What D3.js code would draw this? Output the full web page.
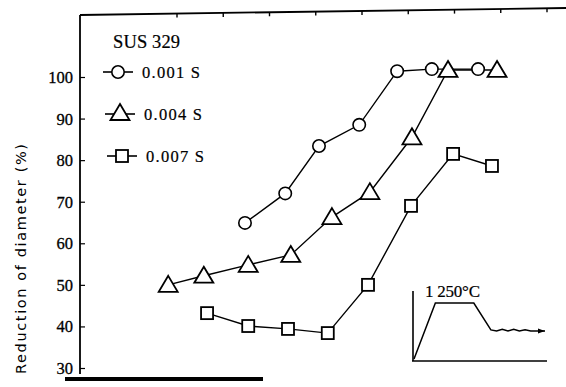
<!DOCTYPE html>
<html>
<head>
<meta charset="utf-8">
<script src="https://cdn.jsdelivr.net/npm/d3@7"></script>
<style>
  html, body { margin: 0; padding: 0; background: #fff; }
  svg { display: block; }
  text { fill: #000; }
  .serif { font-family: 'Liberation Serif', 'DejaVu Serif', serif; }
  .sans { font-family: 'DejaVu Sans', 'Liberation Sans', sans-serif; }
</style>
</head>
<body>
<script>
// series data, x in top-tick units (ticks at 0..8), y in percent
var circleX = [1.47, 2.34, 3.07, 3.94, 4.76, 5.51, 6.51];
var circleY = [64.9, 72.0, 83.4, 88.5, 101.4, 101.9, 101.9];

var triangleX = [-0.19, 0.58, 1.54, 2.46, 3.35, 4.17, 5.08, 5.86, 6.92];
var triangleY = [50.0, 52.2, 54.8, 57.2, 66.3, 72.3, 85.5, 101.7, 101.7];

var squareX = [0.65, 1.54, 2.40, 3.26, 4.13, 5.06, 5.97, 6.81];
var squareY = [43.2, 40.1, 39.4, 38.4, 50.0, 69.0, 81.5, 78.6];

var yTicks = [30, 40, 50, 60, 70, 80, 90, 100];
var topTicks = [0, 1, 2, 3, 4, 5, 6, 7, 8];

var legendLabels = ['0.001 S', '0.004 S', '0.007 S'];
var title = 'SUS 329';
var yTitle = 'Reduction of diameter (%)';

// inset heating profile: time vs temperature (arbitrary units)
var profileT = [0, 1.5, 4.2, 5.4, 5.8, 6.2, 6.6, 7.0, 7.4, 7.8, 8.2, 9.2];
var profileV = [0, 10, 10, 5.2, 5.0, 5.3, 5.0, 5.3, 5.0, 5.2, 5.0, 5.0];
var insetLabel = '1 250°C';

var W = 566, H = 387;
var svg = d3.select('body').append('svg').attr('width', W).attr('height', H);

var x = d3.scaleLinear().domain([0, 8]).range([177, 547]);
var y = d3.scaleLinear().domain([30, 100]).range([368, 77]);

// frame: left axis and slightly tilted top border
svg.append('line').attr('x1', 80).attr('y1', 15).attr('x2', 80).attr('y2', 374)
	.attr('stroke', '#000').attr('stroke-width', 1.8);
svg.append('line').attr('x1', 80).attr('y1', 15).attr('x2', 566).attr('y2', 8)
	.attr('stroke', '#000').attr('stroke-width', 1.8);

// top ticks, following the tilt
var topY = function(px) { return 15 - (px - 80) * 7 / 486; };
svg.selectAll('.ttick').data(topTicks).enter().append('line')
	.attr('x1', function(d) { return x(d); })
	.attr('x2', function(d) { return x(d); })
	.attr('y1', function(d) { return topY(x(d)); })
	.attr('y2', function(d) { return topY(x(d)) + 4; })
	.attr('stroke', '#000').attr('stroke-width', 1.4);

// y axis ticks (inward) and labels
var yAxis = d3.axisRight(y).tickValues(yTicks).tickSize(5).tickFormat('');
var ga = svg.append('g').attr('transform', 'translate(80,0)').call(yAxis);
ga.select('.domain').remove();
ga.selectAll('line').attr('stroke-width', 1.2);

svg.selectAll('.ylab').data(yTicks).enter().append('text')
	.attr('class', 'serif')
	.attr('x', 73).attr('y', function(d) { return y(d) + 6; })
	.attr('text-anchor', 'end')
	.attr('font-size', 16.5)
	.attr('stroke', '#000').attr('stroke-width', 0.3)
	.text(function(d) { return d; });

// thick bottom bar
svg.append('rect').attr('x', 65).attr('y', 377).attr('width', 198).attr('height', 4).attr('fill', '#000');

// y title
svg.append('text')
	.attr('class', 'sans')
	.attr('transform', 'translate(26,259) rotate(-90)')
	.attr('text-anchor', 'middle')
	.attr('font-size', 14.5)
	.attr('textLength', 230)
	.attr('lengthAdjust', 'spacing')
	.text(yTitle);

// marker drawing
function drawMarker(g, type, cx, cy) {
	if (type === 'circle') {
		g.append('circle').attr('cx', cx).attr('cy', cy).attr('r', 6.2)
			.attr('fill', '#fff').attr('stroke', '#000').attr('stroke-width', 1.6);
	} else if (type === 'triangle') {
		g.append('path')
			.attr('d', 'M' + cx + ',' + (cy - 9) + 'L' + (cx + 9.5) + ',' + (cy + 7) + 'L' + (cx - 9.5) + ',' + (cy + 7) + 'Z')
			.attr('fill', '#fff').attr('stroke', '#000').attr('stroke-width', 1.8);
	} else {
		g.append('rect').attr('x', cx - 6).attr('y', cy - 6).attr('width', 12).attr('height', 12)
			.attr('fill', '#fff').attr('stroke', '#000').attr('stroke-width', 1.8);
	}
}

var series = [
	{ type: 'circle', xs: circleX, ys: circleY },
	{ type: 'triangle', xs: triangleX, ys: triangleY },
	{ type: 'square', xs: squareX, ys: squareY }
];

var line = d3.line().x(function(d) { return x(d[0]); }).y(function(d) { return y(d[1]); });

series.forEach(function(s) {
	var pts = d3.zip(s.xs, s.ys);
	svg.append('path').attr('d', line(pts)).attr('fill', 'none')
		.attr('stroke', '#000').attr('stroke-width', 1.4);
});
series.forEach(function(s) {
	var g = svg.append('g');
	d3.zip(s.xs, s.ys).forEach(function(p) { drawMarker(g, s.type, x(p[0]), y(p[1])); });
});

// legend
svg.append('text').attr('class', 'serif').attr('x', 113).attr('y', 48)
	.attr('font-size', 18.5)
	.attr('stroke', '#000').attr('stroke-width', 0.2)
	.attr('textLength', 67)
	.text(title);

var legendRows = [72, 114, 156];
series.forEach(function(s, i) {
	var ly = legendRows[i];
	var lx = 118 + i * 2;
	var g = svg.append('g');
	g.append('line').attr('x1', lx - 15).attr('x2', lx + 15).attr('y1', ly).attr('y2', ly)
		.attr('stroke', '#000').attr('stroke-width', 1.6);
	drawMarker(g, s.type, lx, ly + (s.type === 'triangle' ? -1 : 0));
	g.append('text').attr('class', 'serif').attr('x', lx + 24).attr('y', ly + 6)
		.attr('font-size', 16.5)
		.attr('stroke', '#000').attr('stroke-width', 0.2)
		.attr('textLength', 58)
		.attr('lengthAdjust', 'spacing')
		.text(legendLabels[i]);
});

// inset
var ix = d3.scaleLinear().domain([0, 9.2]).range([414, 545]);
var iy = d3.scaleLinear().domain([0, 10]).range([359, 303]);
svg.append('line').attr('x1', 413).attr('x2', 413).attr('y1', 291).attr('y2', 361)
	.attr('stroke', '#000').attr('stroke-width', 1.6);
svg.append('line').attr('x1', 412).attr('x2', 547).attr('y1', 361).attr('y2', 361)
	.attr('stroke', '#000').attr('stroke-width', 1.6);
svg.append('path').attr('d', d3.line().x(function(d) { return ix(d[0]); }).y(function(d) { return iy(d[1]); })(d3.zip(profileT, profileV)))
	.attr('fill', 'none').attr('stroke', '#000').attr('stroke-width', 1.5);
svg.append('path')
	.attr('d', 'M' + ix(9.2) + ',' + iy(5) + 'l-7,-2.5l0,5z')
	.attr('fill', '#000');
svg.append('text').attr('class', 'serif').attr('x', 425).attr('y', 297)
	.attr('font-size', 17)
	.attr('stroke', '#000').attr('stroke-width', 0.2)
	.attr('textLength', 55)
	.text(insetLabel);
</script>
</body>
</html>
